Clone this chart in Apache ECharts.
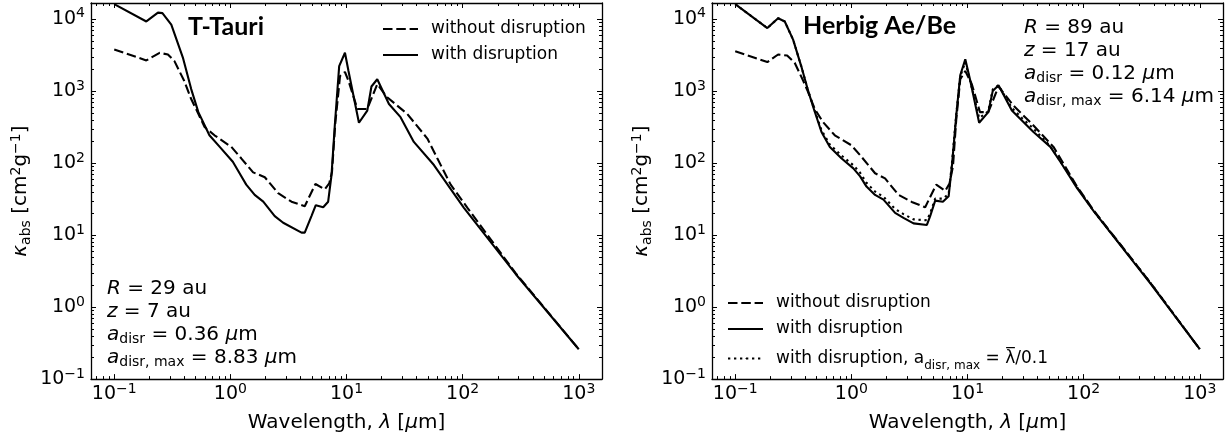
<!DOCTYPE html>
<html><head><meta charset="utf-8">
<script src="https://cdn.jsdelivr.net/npm/echarts@6/dist/echarts.min.js"></script>
<style>html,body{margin:0;padding:0;background:#fff}#c{width:1232px;height:440px}</style>
</head><body><div id="c"></div>
<script>
// ---------------- data (wavelength in micron, kappa_abs in cm^2/g) ----------------
const ttLamSolid = [0.1,0.189,0.238,0.26,0.31,0.39,0.46,0.53,0.66,0.81,1.05,1.2,1.37,1.62,1.92,2.41,2.85,4.1,4.37,4.99,5.44,6.3,6.95,7.43,7.93,8.65,9.7,10.4,12.8,15.1,16.4,18.4,23.2,29.2,38,56.6,81.5,102.6,286,1000];
const ttKapSolid = [16000,9200,12200,12000,8300,2900,1060,507,242,167,104,72,50,36,29,18.3,14.8,10.8,10.8,18.3,25.9,24.3,29,68,331,2210,3380,1890,361,533,1150,1450,659,432,196,93.5,40.4,23.8,2.88,0.26];
const ttLamDashed = [0.1,0.189,0.246,0.29,0.33,0.40,0.46,0.53,0.60,0.73,1.02,1.24,1.57,1.98,2.58,3.36,4.37,5.4,6.5,7.1,7.5,8.0,8.8,9.7,10.4,12.4,15.1,18.4,22.4,33.3,49.7,60.5,78.9,110,286,1000];
const ttKapDashed = [3750,2650,3380,3200,2590,1380,771,480,315,242,167,116,74,63.4,38,29,25.1,51,43,52,75,350,1610,1830,1380,562,562,1240,815,480,218,116,50,23.8,2.95,0.26];

const hbLamSolid = [0.1,0.189,0.234,0.267,0.315,0.37,0.42,0.47,0.553,0.653,0.82,1.04,1.19,1.35,1.6,1.89,2.38,2.81,3.43,4.47,4.77,5.27,6.14,6.88,7.35,8.0,8.66,9.57,10.5,12.6,15.1,16.5,18.5,24.1,29.4,37,51.7,63,87.8,122,378,1000];
const hbKapSolid = [16000,7450,10200,9200,5150,2210,1060,593,269,167,116,84,65,47,36,31,20.3,17.3,14.5,13.8,18.3,30,29,34.4,93,455,1650,2740,1450,361,507,1000,1200,533,389,269,167,104,44.8,21.4,2.1,0.26];
const hbLamDashed = [0.1,0.189,0.234,0.28,0.325,0.385,0.42,0.484,0.57,0.72,1.0,1.19,1.6,1.95,2.55,3.31,4.32,5.38,6.43,7.0,7.5,8.0,8.66,9.57,10.9,12.8,15.1,18.5,24.9,37,55,87.8,122,378,1000];
const hbKapDashed = [3560,2510,3200,3100,2460,1380,1000,562,369,242,176,128,72,61,36,28.8,24.3,50,41,52,90,400,1450,1890,1240,507,507,1150,624,331,167,47,22,2.15,0.26];
const hbLamDotted = [0.1,0.189,0.234,0.267,0.315,0.37,0.42,0.47,0.553,0.653,0.82,1.04,1.19,1.35,1.6,1.89,2.38,2.81,3.43,4.47,4.77,5.27,6.14,6.88,7.35,8.0,8.66,9.57,10.5,12.6,15.1,16.5,18.5,24.1,29.4,37,51.7,63,87.8,122,378,1000];
const hbKapDotted = [16000,7450,10200,9200,5150,2210,1060,610,285,180,127,93,73,53,40,34,23,19.5,16.5,16,20,32,32,37,100,470,1600,2500,1420,420,520,1050,1200,580,420,300,170,106,46,21.5,2.15,0.26];

const seriesNames = ['without disruption', 'with disruption', 'with disruption, a_disr,max'];
const panelTitles = ['T-Tauri', 'Herbig Ae/Be'];
const xAxisTitle = 'Wavelength, {i|λ} [{i|μ}m]';
const yAxisTitle = '{i|κ}{s|abs} [cm{p|2}g{p|−1}]';
const annoLeft = '{i|R} = 29 au\n{i|z} = 7 au\n{i|a}{s|disr} = 0.36 {i|μ}m\n{i|a}{s|disr, max} = 8.83 {i|μ}m';
const annoRight = '{i|R} = 89 au\n{i|z} = 17 au\n{i|a}{s|disr} = 0.12 {i|μ}m\n{i|a}{s|disr, max} = 6.14 {i|μ}m';

// ---------------- chart ----------------
const FONT = 'DejaVu Sans';
const xMin = Math.pow(10, -1.2), xMax = Math.pow(10, 3.2);
const yMin = 0.1, yMax = Math.pow(10, 4.22);
const zip = (a, b) => a.map((v, i) => [v, b[i]]);

function powLabel(v) {
  const l = Math.log10(v);
  const e = Math.round(l);
  if (Math.abs(l - e) > 1e-6) return '';
  return '{b|10}{p|' + (e < 0 ? '−' + (-e) : String(e)) + '}';
}
const tickRich = {
  b: {fontFamily: FONT, fontSize: 19, color: '#000'},
  p: {fontFamily: FONT, fontSize: 14, color: '#000', verticalAlign: 'top', lineHeight: 14}
};
const nameRich = {
  i: {fontFamily: FONT, fontSize: 20, fontStyle: 'italic', color: '#000'},
  s: {fontFamily: FONT, fontSize: 14, color: '#000', verticalAlign: 'bottom', lineHeight: 14},
  p: {fontFamily: FONT, fontSize: 14, color: '#000', verticalAlign: 'top', lineHeight: 14}
};
const axLine = {show: true, onZero: false, lineStyle: {color: '#000', width: 1.3}};
const axTick = {show: true, inside: true, length: 5, lineStyle: {color: '#000', width: 1}};

function xAx(g, pos, main) {
  return {
    type: 'log', logBase: 10, gridIndex: g, position: pos, min: xMin, max: xMax,
    axisLine: axLine, axisTick: axTick, splitLine: {show: false},
    axisLabel: main ? {show: true, interval: 0, margin: 3, formatter: powLabel, rich: tickRich, lineHeight: 24, fontFamily: FONT, fontSize: 19, color: '#000'} : {show: false},
    name: main ? xAxisTitle : '', nameLocation: 'middle', nameGap: 26,
    nameTextStyle: {fontFamily: FONT, fontSize: 20, color: '#000', rich: nameRich, lineHeight: 24}
  };
}
function yAx(g, pos, main) {
  return {
    type: 'log', logBase: 10, gridIndex: g, position: pos, min: yMin, max: yMax,
    axisLine: axLine, axisTick: axTick, splitLine: {show: false},
    axisLabel: main ? {show: true, interval: 0, margin: 6, formatter: powLabel, rich: tickRich, lineHeight: 24, fontFamily: FONT, fontSize: 19, color: '#000'} : {show: false},
    name: main ? yAxisTitle : '', nameLocation: 'middle', nameRotate: 90, nameGap: 58,
    nameTextStyle: {fontFamily: FONT, fontSize: 20, color: '#000', rich: nameRich, lineHeight: 24}
  };
}
const dashed = [9.5, 3.8], dotted = [2.3, 3.7];
function line(name, xi, yi, data, type) {
  return {name, type: 'line', xAxisIndex: xi, yAxisIndex: yi, data, symbol: 'none', smooth: false,
    lineStyle: {color: '#000', width: 2.1, type}, itemStyle: {color: '#000'}, z: 3, animation: false};
}
const legendText = {fontFamily: FONT, fontSize: 17, color: '#000', padding: [0, 0, 0, 8], lineHeight: 20,
  rich: {t: {fontFamily: FONT, fontSize: 17, color: '#000', lineHeight: 27}, s: {fontFamily: FONT, fontSize: 12, color: '#000', verticalAlign: 'bottom', lineHeight: 20}}};
function legendFmt(n) {
  if (n === seriesNames[2]) return '{t|with disruption, a}{s|disr, max}{t| = λ̅/0.1}';
  return n;
}

const chart = echarts.init(document.getElementById('c'), null, {renderer: 'canvas'});
chart.setOption({
  animation: false,
  backgroundColor: '#fff',
  grid: [
    {left: 91, top: 3, width: 511, height: 380},
    {left: 712, top: 3, width: 511, height: 380}
  ],
  xAxis: [xAx(0, 'bottom', true), xAx(0, 'top', false), xAx(1, 'bottom', true), xAx(1, 'top', false)],
  yAxis: [yAx(0, 'left', true), yAx(0, 'right', false), yAx(1, 'left', true), yAx(1, 'right', false)],
  legend: [
    {orient: 'vertical', left: 382, top: 19, padding: 0, itemWidth: 35, itemHeight: 1, itemGap: 6, selectedMode: false,
     data: [seriesNames[0], seriesNames[1]], textStyle: legendText, formatter: legendFmt},
    {orient: 'vertical', left: 727, top: 293, padding: 0, itemWidth: 35, itemHeight: 1, itemGap: 6, selectedMode: false,
     data: [seriesNames[0], seriesNames[1], seriesNames[2]], textStyle: legendText, formatter: legendFmt}
  ],
  series: [
    line(seriesNames[0], 0, 0, zip(ttLamDashed, ttKapDashed), dashed),
    line(seriesNames[1], 0, 0, zip(ttLamSolid, ttKapSolid), 'solid'),
    line(seriesNames[0], 2, 2, zip(hbLamDashed, hbKapDashed), dashed),
    line(seriesNames[1], 2, 2, zip(hbLamSolid, hbKapSolid), 'solid'),
    line(seriesNames[2], 2, 2, zip(hbLamDotted, hbKapDotted), dotted)
  ]
});

// minor ticks (log 2..9) on all four sides, positioned through the axes' own scales
function minorTicks(xi, yi) {
  const out = [];
  const f = {xAxisIndex: xi, yAxisIndex: yi};
  const p0 = chart.convertToPixel(f, [xMin, yMin]);
  const p1 = chart.convertToPixel(f, [xMax, yMax]);
  const st = {stroke: '#000', lineWidth: 1};
  for (let e = -2; e <= 4; e++) {
    for (let k = 2; k <= 9; k++) {
      const v = k * Math.pow(10, e);
      if (v > xMin && v < xMax) {
        const px = Math.round(chart.convertToPixel(f, [v, yMin])[0]) + 0.5;
        out.push({type: 'line', silent: true, shape: {x1: px, y1: p0[1], x2: px, y2: p0[1] - 3}, style: st});
        out.push({type: 'line', silent: true, shape: {x1: px, y1: p1[1], x2: px, y2: p1[1] + 3}, style: st});
      }
      if (v > yMin && v < yMax) {
        const py = Math.round(chart.convertToPixel(f, [xMin, v])[1]) + 0.5;
        out.push({type: 'line', silent: true, shape: {x1: p0[0], y1: py, x2: p0[0] + 3, y2: py}, style: st});
        out.push({type: 'line', silent: true, shape: {x1: p1[0], y1: py, x2: p1[0] - 3, y2: py}, style: st});
      }
    }
  }
  return out;
}
const annoRich = {
  i: {fontFamily: FONT, fontSize: 20, fontStyle: 'italic', color: '#000'},
  s: {fontFamily: FONT, fontSize: 14, color: '#000', verticalAlign: 'bottom', lineHeight: 14}
};
function anno(x, y, text) {
  return {type: 'text', silent: true, x, y, style: {text, fontFamily: FONT, fontSize: 20, fill: '#000', lineHeight: 23, rich: annoRich, align: 'left', verticalAlign: 'top'}};
}
function title(x, y, text) {
  return {type: 'text', silent: true, x, y, style: {text, fontFamily: 'Lato', fontWeight: 'bold', fontSize: 25, fill: '#000', align: 'left', verticalAlign: 'middle'}};
}
chart.setOption({
  graphic: [].concat(
    minorTicks(0, 0), minorTicks(2, 2),
    [title(188, 27, panelTitles[0]), title(803, 26, panelTitles[1]),
     anno(107, 277, annoLeft), anno(1024, 16, annoRight)]
  )
});
</script></body></html>
